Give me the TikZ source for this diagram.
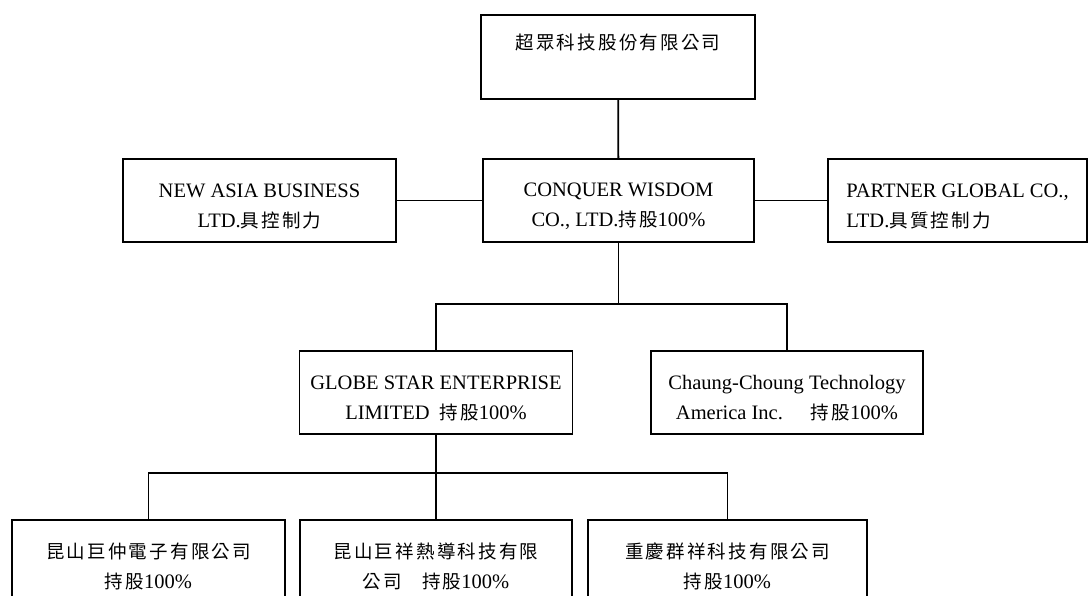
\documentclass[tikz,border=0pt]{standalone}
\usepackage{fontspec}
\setmainfont{Liberation Serif}
\newfontfamily\cjk[LetterSpace=12]{Noto Sans CJK TC}
\newcommand{\zh}[1]{{\fontsize{18.5}{30}\cjk #1}}
\newcommand{\lift}{\rule{0pt}{25pt}}

\tikzset{
  company/.style={draw, line width=1.8pt, minimum width=273pt, minimum height=83pt,
    inner sep=0pt, align=center, font=\fontsize{20.5}{30}\selectfont},
  link/.style={line width=1.8pt}
}

\begin{document}
\begin{tikzpicture}[x=1pt,y=-1pt]

% page frame
\clip (0,0) rectangle (1088,595);

% parent
\node[company, minimum width=274pt, minimum height=84pt] (top) at (618,57) {\zh{超眾科技股份有限公司}\\\mbox{}};

% second row
\node[company] (asia) at (259.5,200.5) {\lift NEW ASIA BUSINESS\\LTD.\zh{具控制力}};
\node[company, minimum width=271pt] (wisdom) at (618.5,200.5) {\lift CONQUER WISDOM\\CO., LTD.\zh{持股}100\%};
\node[company, minimum width=259pt, align=left] (partner) at (957.5,200.5) {\lift PARTNER GLOBAL CO.,\\LTD.\zh{具質控制力}};

% third row
\node[company] (globe) at (436,392.5) {\lift GLOBE STAR ENTERPRISE\\LIMITED\hspace{10pt}\zh{持股}100\%};
\node[company, minimum width=272pt] (chaung) at (787,392.5) {\lift Chaung-Choung Technology\\America Inc.\hspace{28pt}\zh{持股}100\%};

% bottom row
\node[company] (kunzhong) at (148.5,561.5) {\lift\zh{昆山巨仲電子有限公司}\\\zh{持股}100\%};
\node[company, minimum width=272pt] (kunxiang) at (436,561.5) {\lift\zh{昆山巨祥熱導科技有限}\\\zh{公司}\hspace{20pt}\zh{持股}100\%};
\node[company, minimum width=279pt] (chongqing) at (727.5,561.5) {\lift\zh{重慶群祥科技有限公司}\\\zh{持股}100\%};

% connectors
\draw[link] (top) -- (wisdom);
\draw[link] (asia) -- (wisdom);
\draw[link] (wisdom) -- (partner);

\path (wisdom.south) ++(0,61) coordinate (split1);
\draw[link] (wisdom.south) -- (split1);
\draw[link] (globe.north) |- (split1) -| (chaung.north);

\path (globe.south) ++(0,38) coordinate (split2);
\draw[link] (globe.south) -- (kunxiang.north);
\draw[link] (kunzhong.north) |- (split2) -| (chongqing.north);

\end{tikzpicture}
\end{document}
